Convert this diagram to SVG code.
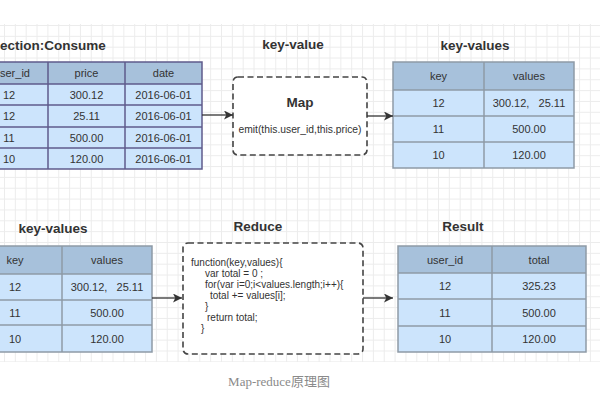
<svg xmlns="http://www.w3.org/2000/svg" width="600" height="400" viewBox="0 0 600 400">
<defs>
<pattern id="grid" x="4" y="25" width="10.85" height="10.85" patternUnits="userSpaceOnUse">
<path d="M0 0.5H10.85M0.5 0V10.85" fill="none" stroke="#ececec" stroke-width="1"/>
</pattern>
<marker id="arr" viewBox="0 0 10 10" refX="10" refY="5" markerWidth="9" markerHeight="9" markerUnits="userSpaceOnUse" orient="auto">
<path d="M0 0L10 5L0 10L2.5 5Z" fill="#333"/>
</marker>
<style>
.t{font-family:"Liberation Sans",Arial,sans-serif;font-size:11px;fill:#333;text-anchor:middle}
.h{font-family:"Liberation Sans",Arial,sans-serif;font-size:13.5px;font-weight:bold;fill:#333;text-anchor:middle}
.code{font-family:"Liberation Sans",Arial,sans-serif;font-size:10px;fill:#333}
.hd{fill:#a7c1db}
.rw{fill:#cce4fc}
.g{stroke:#8e9aa6;stroke-width:1.5;fill:none}
.p{stroke:#5f5b8c;stroke-width:1.5;fill:none}
.box{fill:#fff;stroke:#444;stroke-width:1.6;stroke-dasharray:6 3.5}
.ln{stroke:#333;stroke-width:1.3;fill:none;marker-end:url(#arr)}
</style>
</defs>
<rect width="600" height="400" fill="#fff"/>
<rect x="0" y="24" width="600" height="338" fill="url(#grid)"/>

<g id="consume">
<text x="0" y="50" class="h" style="text-anchor:start">ection:Consume</text>
<rect x="-30" y="62" width="232" height="22" class="hd"/>
<rect x="-30" y="84" width="232" height="85" class="rw"/>
<path d="M-30 62H202V169H-30Z M-30 84H202 M-30 105H202 M-30 127H202 M-30 148H202 M48 62V169 M125 62V169" class="p"/>
<text x="0" y="77" class="t" style="text-anchor:start">ser_id</text>
<text x="86.5" y="77" class="t">price</text>
<text x="163.5" y="77" class="t">date</text>
<text x="9" y="98.5" class="t">12</text><text x="86.5" y="98.5" class="t">300.12</text><text x="163.5" y="98.5" class="t">2016-06-01</text>
<text x="9" y="120" class="t">12</text><text x="86.5" y="120" class="t">25.11</text><text x="163.5" y="120" class="t">2016-06-01</text>
<text x="9" y="141.5" class="t">11</text><text x="86.5" y="141.5" class="t">500.00</text><text x="163.5" y="141.5" class="t">2016-06-01</text>
<text x="9" y="162.5" class="t">10</text><text x="86.5" y="162.5" class="t">120.00</text><text x="163.5" y="162.5" class="t">2016-06-01</text>
</g>

<g id="map">
<text x="293" y="49" class="h">key-value</text>
<rect x="233" y="77" width="134" height="78" rx="5" class="box"/>
<text x="300" y="107" class="h">Map</text>
<text x="300" y="133" class="t" style="font-size:10.3px">emit(this.user_id,this.price)</text>
</g>

<g id="keyvalues1">
<text x="475" y="50" class="h">key-values</text>
<rect x="393" y="62" width="181" height="28" class="hd"/>
<rect x="393" y="90" width="181" height="78" class="rw"/>
<path d="M393 62H574V168H393Z M393 90H574 M393 116H574 M393 142H574 M484 62V168" class="g"/>
<text x="438.5" y="80" class="t">key</text>
<text x="529" y="80" class="t">values</text>
<text x="438.5" y="107" class="t">12</text><text x="529" y="107" class="t" xml:space="preserve">300.12,   25.11</text>
<text x="438.5" y="133" class="t">11</text><text x="529" y="133" class="t">500.00</text>
<text x="438.5" y="159" class="t">10</text><text x="529" y="159" class="t">120.00</text>
</g>

<g id="keyvalues2">
<text x="53" y="233" class="h">key-values</text>
<rect x="-30" y="246" width="182" height="28" class="hd"/>
<rect x="-30" y="274" width="182" height="78" class="rw"/>
<path d="M-30 246H152V352H-30Z M-30 274H152 M-30 300H152 M-30 325H152 M62 246V352" class="g"/>
<text x="15" y="264" class="t">key</text>
<text x="107" y="264" class="t">values</text>
<text x="15" y="291" class="t">12</text><text x="107" y="291" class="t" xml:space="preserve">300.12,   25.11</text>
<text x="15" y="316.5" class="t">11</text><text x="107" y="316.5" class="t">500.00</text>
<text x="15" y="342.5" class="t">10</text><text x="107" y="342.5" class="t">120.00</text>
</g>

<g id="reduce">
<text x="258" y="231" class="h">Reduce</text>
<rect x="183" y="243" width="180" height="111" rx="5" class="box"/>
<text class="code" x="191" y="266">function(key,values){</text>
<text class="code" x="205" y="277">var total = 0 ;</text>
<text class="code" x="205" y="288">for(var i=0;i&lt;values.length;i++){</text>
<text class="code" x="210" y="299">total += values[i];</text>
<text class="code" x="205" y="310">}</text>
<text class="code" x="207" y="321">return total;</text>
<text class="code" x="201" y="332">}</text>
</g>

<g id="result">
<text x="463" y="231" class="h">Result</text>
<rect x="398" y="246" width="188" height="27" class="hd"/>
<rect x="398" y="273" width="188" height="79" class="rw"/>
<path d="M398 246H586V352H398Z M398 273H586 M398 299H586 M398 326H586 M492 246V352" class="g"/>
<text x="445" y="264" class="t">user_id</text>
<text x="539" y="264" class="t">total</text>
<text x="445" y="290" class="t">12</text><text x="539" y="290" class="t">325.23</text>
<text x="445" y="316.5" class="t">11</text><text x="539" y="316.5" class="t">500.00</text>
<text x="445" y="343" class="t">10</text><text x="539" y="343" class="t">120.00</text>
</g>

<g id="connectors">
<path d="M202 115H233" class="ln"/>
<path d="M367 116H393" class="ln"/>
<path d="M152 298H182" class="ln"/>
<path d="M363 298H393" class="ln"/>
</g>

<text x="279" y="386" style="font-family:'Liberation Serif','Noto Sans CJK SC',serif;font-size:13px;fill:#8a8a8a;text-anchor:middle">Map-reduce原理图</text>
</svg>
